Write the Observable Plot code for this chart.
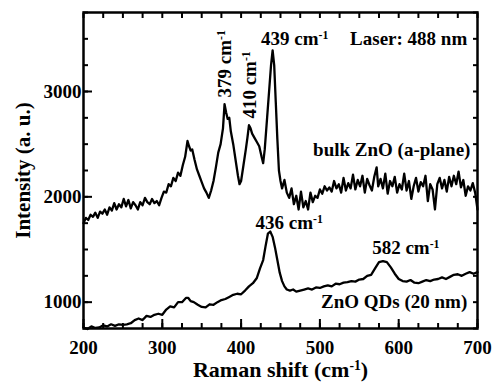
<!DOCTYPE html>
<html>
<head>
<meta charset="utf-8">
<script src="https://cdn.jsdelivr.net/npm/d3@7"></script>
<script src="https://cdn.jsdelivr.net/npm/@observablehq/plot@0.6"></script>
<style>
  html, body { margin: 0; padding: 0; background: white; }
  #chart { width: 493px; height: 383px; }
  #chart svg, #chart svg text, #chart svg tspan { font-family: "Liberation Serif", "Times New Roman", "DejaVu Serif", serif; font-weight: bold; }
</style>
</head>
<body>
<div id="chart"></div>
<script>
// ---- data: bulk ZnO (a-plane) ----
const bulkShift = [200,203,206,209,212,215,218,221,224,227,230,233,236,239,242,245,248,251,254,257,260,263,266,269,272,275,278,281,284,287,290,293,296,299,302,305,308,311,314,317,320,323,326,329,332,334,336,338,341,344,347,350,353,356,359,362,365,368,371,374,377,379,381,383,385,387,390,393,396,398,400,403,406,408,410,412,414,417,420,423,426,428,430,433,436,438,440,442,444,446,448,450,452,455,458,461,464,467,470,473,476,479,482,485,488,491,494,497,500,503,506,509,512,515,518,521,524,527,530,533,536,539,542,545,548,551,554,557,560,563,566,569,572,574,577,580,583,586,589,592,595,598,601,604,607,610,613,616,619,622,625,628,631,634,637,640,643,646,649,652,655,658,661,664,667,670,673,676,679,682,685,688,691,694,697,700];
const bulkIntensity = [1750,1800,1780,1830,1810,1850,1800,1860,1840,1880,1830,1900,1870,1940,1880,1930,1900,1980,1910,1970,1890,1950,1920,1880,1950,1920,1990,1950,1930,1980,1940,1960,1920,1990,2050,2040,2120,2100,2180,2150,2230,2200,2300,2380,2530,2480,2440,2450,2350,2260,2200,2140,2080,2040,1990,2060,2150,2280,2420,2500,2650,2880,2800,2740,2750,2620,2500,2350,2200,2120,2150,2300,2450,2560,2680,2650,2600,2560,2520,2480,2380,2320,2450,2750,3050,3250,3390,3250,2900,2550,2250,2150,2080,2160,2040,1990,2080,1930,2010,1880,2050,1900,1960,1880,2040,1950,2010,1990,2070,2030,2100,2060,2090,2050,2150,2080,2120,2040,2180,2060,2130,2080,2210,2070,2160,2100,2200,2040,2170,2110,2060,2190,2280,2100,2170,2080,2220,2030,2150,2100,2190,2040,2120,2070,2220,2060,2150,1980,2100,2180,2050,2140,2100,2200,1960,2120,2070,1880,2120,2180,2080,2160,2050,2190,2100,2200,2120,2240,2090,2160,2010,2100,2060,2130,2040,1880];

// ---- data: ZnO QDs (20 nm) ----
const qdShift = [200,205,210,215,220,225,230,235,240,245,250,255,260,265,270,275,280,285,290,295,300,305,310,315,320,325,330,333,336,340,345,350,355,360,365,370,375,380,385,390,395,400,405,410,415,420,424,428,431,434,437,440,443,446,449,452,455,458,462,466,470,475,480,485,490,495,500,505,510,515,520,525,530,535,540,545,550,555,560,565,570,575,580,585,590,595,600,605,610,615,620,625,630,635,640,645,650,655,660,665,670,675,680,685,690,695,700];
const qdIntensity = [760,745,770,755,760,780,770,790,775,790,785,790,800,830,845,830,870,860,880,890,880,930,960,950,1000,1000,1040,1040,1010,1000,975,955,950,980,975,1000,1020,1030,1050,1070,1080,1075,1110,1150,1180,1230,1320,1400,1530,1650,1670,1620,1520,1400,1280,1200,1150,1120,1110,1120,1100,1110,1120,1130,1120,1140,1135,1150,1160,1150,1175,1170,1185,1190,1200,1195,1215,1220,1250,1260,1320,1380,1390,1380,1330,1270,1220,1200,1195,1210,1185,1180,1195,1210,1200,1215,1220,1235,1220,1240,1260,1265,1250,1270,1285,1270,1285];

// ---- axis ticks ----
const xMajorTicks = [200, 300, 400, 500, 600, 700];
const xMinorTicks = d3.range(200, 701, 25);
const yMajorTicks = [1000, 2000, 3000];
const yMinorTicks = d3.range(750, 3751, 250);

// ---- texts ----
const xLabel = "Raman shift (cm^-1)";
const yLabel = "Intensity (a. u.)";
const annotationText = ["Laser: 488 nm", "439 cm^-1", "379 cm^-1", "410 cm^-1", "bulk ZnO (a-plane)", "436 cm^-1", "582 cm^-1", "ZnO QDs (20 nm)"];
const annotationShift = [687, 468, 379, 411, 691, 461, 609, 687];
const annotationIntensity = [3495, 3495, 2943, 2743, 2448, 1752, 1514, 1000];
const annotationRotate = [0, 0, -90, -90, 0, 0, 0, 0];
const annotationAnchor = ["end", "middle", "start", "start", "end", "middle", "middle", "end"];

const bulk = bulkShift.map((s, i) => ({shift: s, intensity: bulkIntensity[i]}));
const qd = qdShift.map((s, i) => ({shift: s, intensity: qdIntensity[i]}));
const notes = annotationText.map((t, i) => ({text: t, shift: annotationShift[i], intensity: annotationIntensity[i], rotate: annotationRotate[i], anchor: annotationAnchor[i]}));

const serif = "'Liberation Serif', 'Times New Roman', 'DejaVu Serif', serif";

const plot = Plot.plot({
  width: 493,
  height: 383,
  marginLeft: 83,
  marginRight: 16,
  marginTop: 12,
  marginBottom: 55,
  x: {domain: [200, 700]},
  y: {domain: [750, 3750]},
  style: `font-family: ${serif}; font-weight: bold; font-size: 19px; color: black; background: white;`,
  marks: [
    Plot.line(bulk, {x: "shift", y: "intensity", stroke: "black", strokeWidth: 2.3, curve: "linear"}),
    Plot.line(qd, {x: "shift", y: "intensity", stroke: "black", strokeWidth: 2.3, curve: "linear"}),
    // tick labels
    Plot.axisX({anchor: "bottom", ticks: xMajorTicks, tickSize: 0, tickPadding: 12, tickFormat: d => String(d), label: null, fontSize: 19}),
    Plot.axisY({anchor: "left", ticks: yMajorTicks, tickSize: 0, tickPadding: 2, tickFormat: d => String(d), label: null, fontSize: 19}),
    // inward tick marks
    Plot.axisX({anchor: "bottom", ticks: xMajorTicks, tickSize: -9, strokeWidth: 2, text: null, label: null}),
    Plot.axisX({anchor: "bottom", ticks: xMinorTicks, tickSize: -5, strokeWidth: 2, text: null, label: null}),
    Plot.axisX({anchor: "top", ticks: xMinorTicks, tickSize: -5, strokeWidth: 2, text: null, label: null}),
    Plot.axisY({anchor: "left", ticks: yMajorTicks, tickSize: -9, strokeWidth: 2, text: null, label: null}),
    Plot.axisY({anchor: "left", ticks: yMinorTicks, tickSize: -5, strokeWidth: 2, text: null, label: null}),
    Plot.axisY({anchor: "right", ticks: yMinorTicks, tickSize: -5, strokeWidth: 2, text: null, label: null}),
    Plot.frame({stroke: "black", strokeWidth: 2.5}),
    // axis titles
    Plot.text([xLabel], {text: d => d, frameAnchor: "bottom", dy: 41, fontSize: 22, textAnchor: "middle", lineAnchor: "middle"}),
    Plot.text([yLabel], {text: d => d, frameAnchor: "left", dx: -60, rotate: -90, fontSize: 21, textAnchor: "middle", lineAnchor: "middle"}),
    // annotations
    Plot.text(notes.filter(d => d.rotate === 0 && d.anchor === "end"), {x: "shift", y: "intensity", text: "text", textAnchor: "end", lineAnchor: "middle", fontSize: 19}),
    Plot.text(notes.filter(d => d.rotate === 0 && d.anchor === "middle"), {x: "shift", y: "intensity", text: "text", textAnchor: "middle", lineAnchor: "middle", fontSize: 19}),
    Plot.text(notes.filter(d => d.rotate !== 0), {x: "shift", y: "intensity", text: "text", rotate: -90, textAnchor: "start", lineAnchor: "middle", fontSize: 19})
  ]
});

// render "cm^-1" as real text with a superscript
d3.select(plot).selectAll("text").each(function() {
  const el = this;
  const tspans = el.querySelectorAll("tspan");
  const target = tspans.length ? tspans[0] : el;
  const t = target.textContent;
  if (!t.includes("^-1")) return;
  const [before, after] = t.split("^-1");
  const host = d3.select(target);
  host.text(null);
  host.append("tspan").text(before);
  host.append("tspan").attr("baseline-shift", "super").attr("font-size", "0.62em").text("-1");
  if (after) host.append("tspan").text(after);
});
d3.select(plot).attr("font-family", serif).attr("font-weight", "bold");

document.getElementById("chart").appendChild(plot);
</script>
</body>
</html>
